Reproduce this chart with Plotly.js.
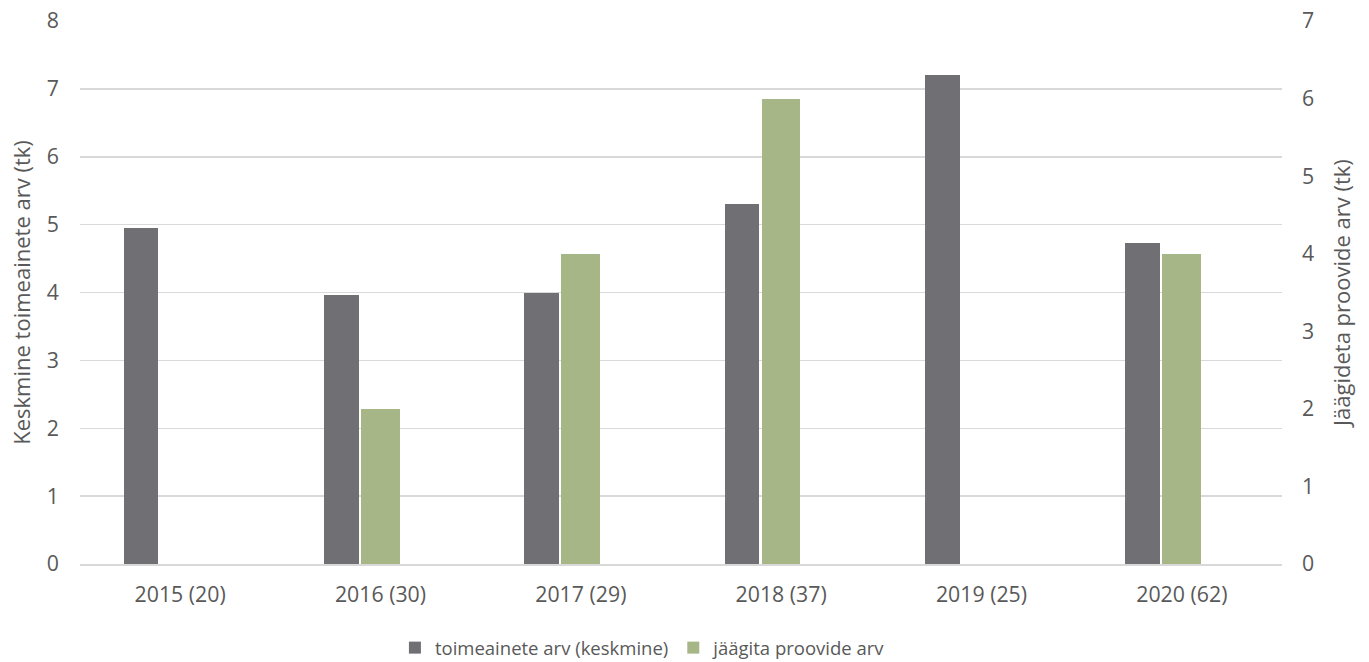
<!DOCTYPE html>
<html>
<head>
<meta charset="utf-8">
<script src="https://cdn.plot.ly/plotly-3.0.1.min.js"></script>
<style>
  html, body { margin: 0; padding: 0; background: #ffffff; }
  #chart { width: 1369px; height: 662px; }
</style>
</head>
<body>
<div id="chart"></div>
<script>
// Years with number of samples in parentheses
const categories = ['2015 (20)', '2016 (30)', '2017 (29)', '2018 (37)', '2019 (25)', '2020 (62)'];
// Average number of active substances per sample (left axis)
const avgSubstances = [4.95, 3.97, 4.0, 5.31, 7.2, 4.73];
// Number of samples with residues (right axis)
const residueSamples = [null, 2, 4, 6, null, 4];

const seriesNames = ['toimeainete arv (keskmine)', 'jäägita proovide arv'];
const leftTitle = 'Keskmine toimeainete arv (tk)';
const rightTitle = 'Jäägideta proovide arv (tk)';

const textColor = '#595959';
const gridColor = '#d9d9d9';
const font = 'Open Sans, sans-serif';

const traces = [
  {
    type: 'bar',
    name: seriesNames[0],
    x: categories,
    y: avgSubstances,
    yaxis: 'y',
    offset: -0.282,
    width: 0.173,
    marker: { color: '#706f74', line: { width: 0 } },
    hoverinfo: 'x+y'
  },
  {
    type: 'bar',
    name: seriesNames[1],
    x: categories,
    y: residueSamples,
    yaxis: 'y2',
    offset: -0.097,
    width: 0.193,
    marker: { color: '#a7b687', line: { width: 0 } },
    hoverinfo: 'x+y'
  }
];

const layout = {
  width: 1369,
  height: 662,
  paper_bgcolor: '#ffffff',
  plot_bgcolor: '#ffffff',
  font: { family: font, color: textColor, size: 21 },
  margin: { l: 80, r: 87, t: 20.5, b: 97.5, pad: 0, autoexpand: false },
  showlegend: true,
  legend: {
    orientation: 'h',
    xref: 'paper',
    x: 0.262,
    xanchor: 'left',
    yref: 'container',
    y: 0.021,
    yanchor: 'middle',
    font: { family: font, size: 18.5, color: textColor },
    itemwidth: 30,
    traceorder: 'normal'
  },
  xaxis: {
    type: 'category',
    range: [-0.5, 5.5],
    showgrid: false,
    zeroline: false,
    showline: true,
    linecolor: gridColor,
    linewidth: 1.5,
    ticks: '',
    ticklabelstandoff: 11,
    tickfont: { family: font, size: 21.3, color: textColor }
  },
  yaxis: {
    range: [0, 8],
    dtick: 1,
    tick0: 0,
    showgrid: true,
    gridcolor: gridColor,
    gridwidth: 1.5,
    zeroline: false,
    showline: false,
    ticks: '',
    ticklabelstandoff: 20,
    tickfont: { family: font, size: 21.3, color: textColor },
    title: { text: leftTitle, font: { family: font, size: 22, color: textColor }, standoff: 10 }
  },
  yaxis2: {
    overlaying: 'y',
    side: 'right',
    range: [0, 7],
    dtick: 1,
    tick0: 0,
    showgrid: false,
    zeroline: false,
    showline: false,
    ticks: '',
    ticklabelstandoff: 19,
    tickfont: { family: font, size: 21.3, color: textColor },
    title: { text: rightTitle, font: { family: font, size: 22, color: textColor }, standoff: 21 }
  },
  bargap: 0,
  barmode: 'overlay'
};

Plotly.newPlot('chart', traces, layout, { displayModeBar: false, staticPlot: true });
</script>
</body>
</html>
